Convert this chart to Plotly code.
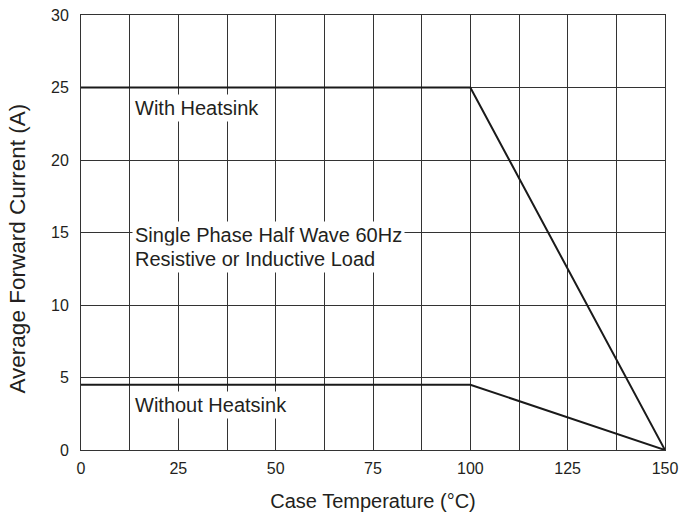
import plotly.graph_objects as go

temp_with = [0, 100, 150]
current_with = [25, 25, 0]
temp_without = [0, 100, 150]
current_without = [4.5, 4.5, 0]
x_ticks = [0, 25, 50, 75, 100, 125, 150]
y_ticks = [0, 5, 10, 15, 20, 25, 30]

fig = go.Figure()
fig.add_trace(go.Scatter(x=temp_with, y=current_with, mode="lines",
                         line=dict(color="#1a1a1a", width=2), showlegend=False))
fig.add_trace(go.Scatter(x=temp_without, y=current_without, mode="lines",
                         line=dict(color="#1a1a1a", width=2), showlegend=False))

font = "Liberation Sans, Arial, sans-serif"
ann_style = dict(xref="x", yref="y", showarrow=False, xanchor="left",
                 bgcolor="white", borderpad=2,
                 font=dict(family=font, size=20, color="#231f20"))
fig.add_annotation(x=13.2, y=23.6, text="With Heatsink", **ann_style)
fig.add_annotation(x=13.2, y=14.8, text="Single Phase Half Wave 60Hz", **ann_style)
fig.add_annotation(x=13.2, y=13.2, text="Resistive or Inductive Load", **ann_style)
fig.add_annotation(x=13.2, y=3.1, text="Without Heatsink", **ann_style)

# y-axis title placed as a rotated annotation for precise positioning
fig.add_annotation(xref="paper", yref="paper", x=0, y=0.5, xanchor="center", yanchor="middle",
                   xshift=-64, yshift=-16, textangle=-90, showarrow=False,
                   text="Average Forward Current (A)",
                   font=dict(family=font, size=22.5, color="#231f20"))

fig.update_layout(
    width=681, height=516,
    margin=dict(l=81, r=16, t=15, b=66),
    paper_bgcolor="white", plot_bgcolor="white",
    font=dict(family=font, size=16, color="#231f20"),
)
fig.update_xaxes(range=[0, 150], tickmode="array", tickvals=x_ticks,
                 ticktext=[str(v) for v in x_ticks],
                 showgrid=True, gridcolor="#333", gridwidth=1,
                 minor=dict(dtick=12.5, tick0=0, showgrid=True, gridcolor="#333", gridwidth=1, ticks=""),
                 showline=True, linecolor="#333", mirror=True, zeroline=False,
                 ticks="", automargin=False, ticklabeloverflow="allow", ticklabelstandoff=4,
                 title=dict(text="Case Temperature (°C)", font=dict(size=20), standoff=17))
fig.update_yaxes(range=[0, 30], tickmode="array", tickvals=y_ticks,
                 ticktext=[str(v) for v in y_ticks],
                 showgrid=True, gridcolor="#333", gridwidth=1,
                 showline=True, linecolor="#333", mirror=True, zeroline=False,
                 ticks="", automargin=False, ticklabeloverflow="allow", ticklabelstandoff=8)

fig.write_html("out.html", config={"displayModeBar": False},
               post_script="document.body.style.margin='0';")
